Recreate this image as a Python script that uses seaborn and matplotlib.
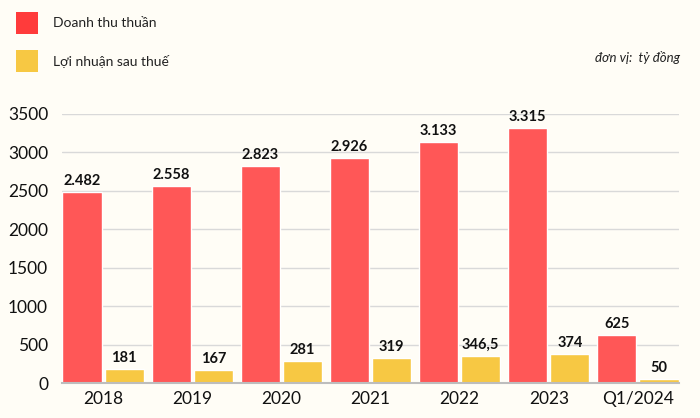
import matplotlib
matplotlib.use("Agg")
import matplotlib.pyplot as plt
import seaborn as sns
import pandas as pd
from matplotlib.patches import Rectangle

years = ["2018", "2019", "2020", "2021", "2022", "2023", "Q1/2024"]
revenue = [2482, 2558, 2823, 2926, 3133, 3315, 625]
profit = [181, 167, 281, 319, 346.5, 374, 50]
revenue_labels = ["2.482", "2.558", "2.823", "2.926", "3.133", "3.315", "625"]
profit_labels = ["181", "167", "281", "319", "346,5", "374", "50"]
series_names = ["Doanh thu thuần", "Lợi nhuận sau thuế"]
y_ticks = [0, 500, 1000, 1500, 2000, 2500, 3000, 3500]

bg = "#FFFDF6"
red = "#FF5757"
yellow = "#F7C843"

df = pd.DataFrame({
    "year": years * 2,
    "value": revenue + profit,
    "series": [series_names[0]] * len(years) + [series_names[1]] * len(years),
})

sns.set_theme(style="white")
plt.rcParams["font.family"] = ["Lato", "DejaVu Sans"]

fig = plt.figure(figsize=(7, 4.18), dpi=100, facecolor=bg)
ax = fig.add_axes([62 / 700, 1 - 383 / 418, (679 - 62) / 700, (383 - 114) / 418])
ax.set_facecolor(bg)

sns.barplot(data=df, x="year", y="value", hue="series", order=years,
            hue_order=series_names, palette=[red, yellow], width=0.92, gap=0.07,
            ax=ax, legend=False, saturation=1)

# adjust bar geometry: each bar 39px of 89px group width, 3px gap
bw = 39 / 89
gp = 3 / 89
for j, cont in enumerate(ax.containers):
    for i, p in enumerate(cont.patches):
        left = i - (2 * bw + gp) / 2 + j * (bw + gp)
        p.set_x(left)
        p.set_width(bw)

for cont, labs in zip(ax.containers, [revenue_labels, profit_labels]):
    ax.bar_label(cont, labels=labs, padding=3, fontsize=10.5, fontweight="bold",
                 color="#111111", clip_on=False)

ax.set_xlim(-0.46, 6.46)
ax.set_ylim(0, 3500)
ax.set_yticks(y_ticks)
ax.set_yticklabels([str(t) for t in y_ticks])
ax.yaxis.grid(True, color="#D9D9D9", linewidth=1)
ax.set_axisbelow(True)
for s in ["top", "right", "left"]:
    ax.spines[s].set_visible(False)
ax.spines["bottom"].set_color("#BDBDBD")
ax.spines["bottom"].set_linewidth(1.5)
ax.tick_params(axis="both", length=0, labelsize=12.5, colors="#111111")
ax.tick_params(axis="y", pad=10)
ax.tick_params(axis="x", pad=6)
ax.set_xlabel("")
ax.set_ylabel("")

# legend
for i, (name, col) in enumerate(zip(series_names, ["#FF3B3B", yellow])):
    ytop = 12 + i * 38
    fig.patches.append(Rectangle((16 / 700, 1 - (ytop + 22) / 418), 22 / 700, 22 / 418,
                                 transform=fig.transFigure, facecolor=col, edgecolor="none"))
    fig.text(53 / 700, 1 - (ytop + 11) / 418, name, fontsize=10, va="center", ha="left",
             color="#222222")

fig.text(680 / 700, 1 - 57 / 418, "đơn vị:  tỷ đồng", fontsize=9.5, style="italic",
         ha="right", va="center", color="#222222")

fig.savefig("out.png", dpi=100, facecolor=bg)
